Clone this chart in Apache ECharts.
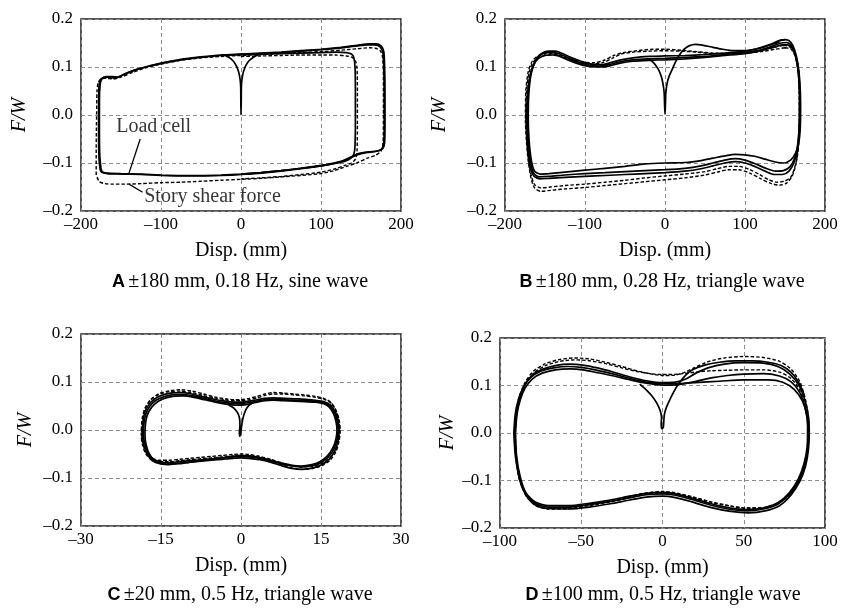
<!DOCTYPE html>
<html>
<head>
<meta charset="utf-8">
<script src="https://cdn.jsdelivr.net/npm/echarts@6/dist/echarts.min.js"></script>
<style>
  html, body { margin: 0; padding: 0; background: #fff; }
  #chart { width: 841px; height: 614px; }
</style>
</head>
<body>
<div id="chart"></div>
<script>
// ---- Panel A: ±180 mm, 0.18 Hz, sine wave ----
const aInitial = [[-24,0.126],[-16,0.121],[-10,0.113],[-6,0.103],[-3,0.09],[-1.2,0.075],[-0.4,0.06],[-0.2,0.03],[0,0.0],[0.3,0.03],[0.5,0.06],[1.3,0.075],[3,0.09],[6,0.103],[10,0.113],[16,0.121],[22,0.126]];
const aLoadCellOuter1 = [[-176,-0.115],[-177.5,-0.09],[-178,-0.04],[-178,0.02],[-177.5,0.06],[-176,0.073],[-172,0.078],[-165,0.079],[-158,0.077],[-152,0.08],[-142,0.088],[-128,0.096],[-112,0.103],[-100,0.108],[-75,0.116],[-50,0.121],[-25,0.125],[0,0.127],[25,0.129],[50,0.131],[75,0.134],[100,0.137],[125,0.141],[145,0.145],[160,0.148],[169,0.148],[175,0.144],[178.5,0.132],[179.5,0.1],[180,0.05],[180,-0.02],[179.5,-0.058],[177,-0.07],[171,-0.075],[160,-0.077],[148,-0.08],[138,-0.087],[126,-0.096],[110,-0.102],[100,-0.105],[75,-0.111],[50,-0.116],[25,-0.12],[0,-0.123],[-25,-0.125],[-50,-0.126],[-75,-0.126],[-100,-0.125],[-125,-0.123],[-150,-0.122],[-168,-0.121],[-174,-0.119],[-176,-0.115]];
const aLoadCellOuter2 = [[-175,-0.112],[-176.5,-0.085],[-177,-0.03],[-177,0.03],[-176,0.064],[-174,0.075],[-169,0.08],[-161,0.08],[-154,0.079],[-146,0.085],[-130,0.095],[-115,0.102],[-100,0.107],[-75,0.115],[-50,0.12],[-25,0.124],[0,0.126],[25,0.128],[50,0.13],[75,0.133],[100,0.136],[125,0.14],[145,0.144],[158,0.146],[167,0.146],[174,0.142],[177.5,0.128],[178.5,0.095],[179,0.04],[179,-0.03],[178,-0.062],[175,-0.072],[168,-0.076],[158,-0.078],[147,-0.082],[136,-0.09],[124,-0.098],[108,-0.104],[100,-0.106],[75,-0.112],[50,-0.117],[25,-0.121],[0,-0.124],[-25,-0.126],[-50,-0.127],[-75,-0.127],[-100,-0.126],[-125,-0.124],[-150,-0.123],[-167,-0.122],[-173,-0.119],[-175,-0.112]];
const aLoadCellInner = [[-25,0.125],[0,0.126],[25,0.127],[50,0.128],[75,0.129],[100,0.13],[120,0.131],[132,0.13],[138,0.127],[141,0.12],[142.5,0.1],[143,0.05],[143,-0.01],[142.5,-0.065],[141,-0.082],[137,-0.09],[130,-0.096],[120,-0.1],[100,-0.106],[75,-0.111],[50,-0.116],[25,-0.12],[0,-0.123]];
const aStoryOuter = [[-181,-0.125],[-181,-0.07],[-180.5,0.0],[-180,0.05],[-178.5,0.068],[-175,0.075],[-168,0.077],[-160,0.075],[-150,0.079],[-135,0.089],[-118,0.099],[-100,0.106],[-75,0.114],[-50,0.119],[-25,0.122],[0,0.124],[25,0.126],[50,0.128],[75,0.13],[100,0.132],[125,0.135],[145,0.138],[160,0.14],[168,0.139],[174,0.134],[177,0.12],[178,0.08],[178,0.0],[177.5,-0.06],[175,-0.075],[168,-0.084],[158,-0.09],[146,-0.099],[132,-0.107],[116,-0.116],[100,-0.122],[75,-0.126],[50,-0.129],[25,-0.132],[0,-0.134],[-25,-0.136],[-50,-0.138],[-75,-0.14],[-100,-0.141],[-125,-0.143],[-145,-0.144],[-160,-0.144],[-170,-0.143],[-177,-0.139],[-181,-0.125]];
const aStoryInner = [[0,0.122],[25,0.123],[50,0.124],[75,0.125],[100,0.125],[118,0.125],[132,0.123],[139,0.12],[143,0.113],[145,0.098],[145.5,0.05],[145.5,-0.02],[145,-0.075],[143,-0.092],[138,-0.1],[130,-0.105],[118,-0.112],[100,-0.119],[75,-0.124],[50,-0.128],[25,-0.131],[0,-0.133]];
// leader lines and label anchors (data coordinates)
const aLoadCellPointer = [[-126,-0.05],[-140,-0.121]];
const aStoryPointer = [[-140,-0.144],[-123,-0.161]];
const aLoadCellLabelAt = [-156, -0.024];
const aStoryLabelAt = [-121, -0.171];

// ---- Panel B: ±180 mm, 0.28 Hz, triangle wave ----
const bInitial = [[-22,0.118],[-15,0.11],[-9,0.097],[-5,0.082],[-2.5,0.065],[-1,0.045],[-0.5,0.02],[0,0.002],[0.5,0.02],[1,0.045],[2.5,0.065],[5,0.08],[9,0.095],[13,0.11],[18,0.125],[24,0.137],[30,0.144],[38,0.147],[48,0.145],[60,0.141],[72,0.137],[85,0.134],[100,0.134],[115,0.138],[130,0.146],[143,0.155],[150,0.157]];
const bLoadCell1 = [[143,0.155],[151,0.157],[157,0.152],[162,0.136],[166,0.108],[168.5,0.07],[169.5,0.02],[169,-0.03],[167,-0.06],[163,-0.08],[157,-0.094],[148,-0.1],[138,-0.098],[125,-0.092],[112,-0.086],[100,-0.083],[88,-0.082],[75,-0.085],[60,-0.09],[45,-0.095],[25,-0.099],[0,-0.1],[-25,-0.102],[-50,-0.107],[-75,-0.111],[-100,-0.115],[-125,-0.119],[-145,-0.122],[-156,-0.123],[-163,-0.117],[-167,-0.095],[-170,-0.05],[-171,0.0],[-170,0.05],[-167,0.088],[-162,0.112],[-155,0.127],[-146,0.133],[-137,0.133],[-128,0.128],[-118,0.12],[-105,0.112],[-92,0.106],[-80,0.105],[-68,0.109],[-55,0.115],[-40,0.119],[-20,0.122],[0,0.123],[25,0.124],[50,0.126],[75,0.129],[100,0.133],[120,0.14],[135,0.148],[143,0.152]];
const bLoadCell2 = [[145,0.15],[152,0.151],[158,0.145],[163,0.125],[166.5,0.095],[168,0.05],[168,-0.01],[166,-0.06],[162,-0.09],[156,-0.108],[148,-0.116],[138,-0.117],[126,-0.111],[112,-0.101],[100,-0.094],[88,-0.091],[75,-0.094],[60,-0.1],[45,-0.106],[25,-0.111],[0,-0.114],[-25,-0.116],[-50,-0.118],[-75,-0.12],[-100,-0.122],[-125,-0.125],[-145,-0.128],[-157,-0.129],[-164,-0.122],[-168,-0.1],[-171,-0.055],[-172,0.0],[-171,0.045],[-168,0.085],[-163,0.11],[-157,0.124],[-148,0.13],[-139,0.13],[-130,0.126],[-120,0.118],[-108,0.11],[-95,0.104],[-82,0.102],[-70,0.105],[-56,0.111],[-40,0.115],[-20,0.117],[0,0.118],[25,0.12],[50,0.122],[75,0.126],[100,0.13],[120,0.136],[135,0.144],[145,0.15]];
const bLoadCell3 = [[146,0.146],[153,0.146],[159,0.14],[164,0.12],[167,0.09],[168.5,0.04],[168,-0.02],[166,-0.07],[161,-0.1],[155,-0.117],[147,-0.124],[137,-0.124],[125,-0.117],[112,-0.107],[100,-0.1],[88,-0.097],[75,-0.1],[60,-0.106],[45,-0.112],[25,-0.117],[0,-0.12],[-25,-0.122],[-50,-0.124],[-75,-0.126],[-100,-0.128],[-125,-0.13],[-145,-0.132],[-156,-0.133],[-164,-0.127],[-169,-0.105],[-172,-0.06],[-173,0.0],[-172,0.04],[-169,0.08],[-164,0.105],[-158,0.118],[-150,0.124],[-140,0.125],[-130,0.121],[-119,0.113],[-107,0.106],[-95,0.101],[-82,0.1],[-70,0.102],[-56,0.108],[-40,0.112],[-20,0.114],[0,0.115],[25,0.117],[50,0.12],[75,0.124],[100,0.128],[120,0.134],[135,0.141],[146,0.146]];
const bStory1 = [[148,0.145],[155,0.143],[160,0.135],[164,0.115],[167,0.08],[168.5,0.03],[168,-0.03],[166,-0.08],[162,-0.11],[157,-0.13],[149,-0.138],[140,-0.14],[130,-0.135],[118,-0.124],[105,-0.113],[92,-0.107],[80,-0.107],[65,-0.112],[50,-0.118],[25,-0.123],[0,-0.127],[-25,-0.131],[-50,-0.136],[-75,-0.14],[-100,-0.144],[-125,-0.147],[-143,-0.15],[-155,-0.152],[-163,-0.145],[-168,-0.12],[-172,-0.07],[-174,0.0],[-173,0.05],[-170,0.088],[-165,0.11],[-158,0.12],[-148,0.125],[-138,0.126],[-127,0.121],[-115,0.113],[-103,0.108],[-90,0.106],[-78,0.109],[-66,0.118],[-55,0.127],[-40,0.131],[-20,0.133],[0,0.134],[20,0.133],[40,0.131],[60,0.128],[80,0.128],[100,0.13],[120,0.135],[136,0.141],[148,0.145]];
const bStory2 = [[150,0.14],[157,0.138],[162,0.125],[165.5,0.1],[167.5,0.06],[168,0.0],[167,-0.05],[164,-0.1],[159,-0.127],[152,-0.142],[143,-0.146],[133,-0.143],[120,-0.133],[106,-0.121],[92,-0.114],[80,-0.114],[65,-0.119],[50,-0.125],[25,-0.131],[0,-0.135],[-25,-0.139],[-50,-0.143],[-75,-0.147],[-100,-0.151],[-125,-0.154],[-143,-0.157],[-155,-0.159],[-163,-0.152],[-168,-0.128],[-172,-0.08],[-174.5,-0.01],[-174,0.05],[-171,0.09],[-166,0.112],[-159,0.123],[-150,0.127],[-140,0.128],[-128,0.123],[-115,0.115],[-102,0.11],[-88,0.109],[-76,0.114],[-64,0.124],[-52,0.13],[-35,0.134],[-15,0.137],[0,0.137],[20,0.135],[40,0.132],[60,0.129],[80,0.128],[100,0.129],[120,0.132],[138,0.137],[150,0.14]];

// ---- Panel C: ±20 mm, 0.5 Hz, triangle wave ----
const cInitial = [[-2.3,0.052],[-1.4,0.046],[-0.7,0.037],[-0.3,0.026],[-0.2,0.01],[-0.3,-0.005],[-0.2,-0.013],[0,-0.002],[0.2,0.015],[0.5,0.03],[0.9,0.042],[1.4,0.05],[2.2,0.057]];
const cLoadCell1 = [[-18.3,0.0],[-18.1,0.022],[-17.6,0.04],[-16.6,0.056],[-15,0.067],[-13,0.073],[-11,0.074],[-9,0.071],[-7,0.066],[-5,0.061],[-3,0.057],[-1,0.055],[0,0.055],[1.5,0.057],[3,0.06],[4.5,0.063],[6,0.064],[8,0.063],[10,0.062],[12,0.061],[14,0.06],[15.5,0.057],[16.7,0.05],[17.5,0.037],[18,0.02],[18.2,0.0],[18,-0.02],[17.4,-0.04],[16.4,-0.056],[15,-0.068],[13.5,-0.074],[11.5,-0.077],[9.5,-0.075],[7.5,-0.07],[5.5,-0.064],[3.5,-0.059],[1.5,-0.056],[0,-0.055],[-1.5,-0.056],[-3.5,-0.058],[-5.5,-0.06],[-7.5,-0.062],[-9.5,-0.064],[-11.5,-0.066],[-13.5,-0.068],[-15,-0.067],[-16.4,-0.061],[-17.4,-0.048],[-18,-0.03],[-18.3,-0.012],[-18.3,0.0]];
const cLoadCell2 = [[-18.5,0.0],[-18.3,0.025],[-17.8,0.043],[-16.8,0.059],[-15.2,0.071],[-13.2,0.077],[-11.2,0.078],[-9.2,0.075],[-7,0.069],[-5,0.064],[-3,0.06],[-1,0.058],[0,0.058],[1.5,0.06],[3,0.063],[4.5,0.066],[6,0.067],[8,0.066],[10,0.065],[12,0.064],[14,0.062],[15.5,0.059],[16.8,0.052],[17.7,0.038],[18.2,0.02],[18.4,0.0],[18.2,-0.022],[17.6,-0.043],[16.6,-0.06],[15.2,-0.072],[13.5,-0.079],[11.5,-0.082],[9.5,-0.08],[7.5,-0.074],[5.5,-0.067],[3.5,-0.062],[1.5,-0.059],[0,-0.058],[-1.5,-0.059],[-3.5,-0.061],[-5.5,-0.063],[-7.5,-0.065],[-9.5,-0.067],[-11.5,-0.069],[-13.5,-0.071],[-15.2,-0.07],[-16.6,-0.064],[-17.6,-0.05],[-18.2,-0.032],[-18.5,-0.013],[-18.5,0.0]];
const cLoadCell3 = [[-18.0,0.0],[-17.8,0.021],[-17.3,0.038],[-16.3,0.053],[-14.8,0.064],[-12.8,0.07],[-10.8,0.071],[-8.8,0.068],[-6.8,0.063],[-4.8,0.058],[-2.8,0.054],[-1,0.052],[0,0.052],[1.5,0.054],[3,0.058],[4.5,0.061],[6,0.062],[8,0.061],[10,0.06],[12,0.059],[14,0.058],[15.5,0.055],[16.5,0.048],[17.3,0.035],[17.8,0.018],[18,0.0],[17.8,-0.019],[17.2,-0.038],[16.2,-0.054],[14.8,-0.066],[13.3,-0.072],[11.3,-0.075],[9.3,-0.073],[7.3,-0.068],[5.3,-0.062],[3.3,-0.057],[1.5,-0.054],[0,-0.053],[-1.5,-0.055],[-3.5,-0.058],[-5.5,-0.061],[-7.5,-0.064],[-9.5,-0.067],[-11.5,-0.07],[-13.5,-0.072],[-15,-0.07],[-16.3,-0.063],[-17.2,-0.05],[-17.8,-0.03],[-18,-0.012],[-18,0.0]];
const cStory1 = [[-18.6,0.0],[-18.4,0.028],[-17.9,0.047],[-16.9,0.064],[-15.3,0.076],[-13.3,0.082],[-11.3,0.084],[-9.2,0.081],[-7,0.075],[-5,0.069],[-3,0.065],[-1,0.063],[0,0.063],[1.5,0.066],[3,0.07],[4.5,0.075],[6,0.078],[8,0.077],[10,0.075],[12,0.073],[14,0.07],[15.5,0.066],[16.8,0.058],[17.7,0.043],[18.3,0.022],[18.5,0.0],[18.3,-0.022],[17.7,-0.042],[16.7,-0.058],[15.3,-0.069],[13.5,-0.075],[11.5,-0.077],[9.5,-0.074],[7.5,-0.068],[5.5,-0.061],[3.5,-0.055],[1.5,-0.051],[0,-0.05],[-1.5,-0.051],[-3.5,-0.053],[-5.5,-0.055],[-7.5,-0.057],[-9.5,-0.059],[-11.5,-0.061],[-13.5,-0.063],[-15.3,-0.063],[-16.8,-0.058],[-17.8,-0.046],[-18.4,-0.028],[-18.6,-0.01],[-18.6,0.0]];
const cStory2 = [[-18.7,0.0],[-18.5,0.026],[-18,0.045],[-17,0.062],[-15.4,0.074],[-13.4,0.08],[-11.4,0.081],[-9.3,0.078],[-7.1,0.072],[-5,0.067],[-3,0.063],[-1,0.061],[0,0.061],[1.5,0.063],[3,0.067],[4.5,0.072],[6,0.075],[8,0.075],[10,0.073],[12,0.071],[14,0.068],[15.6,0.064],[16.9,0.056],[17.8,0.041],[18.4,0.021],[18.6,0.0],[18.4,-0.023],[17.8,-0.045],[16.8,-0.062],[15.4,-0.073],[13.6,-0.08],[11.6,-0.082],[9.6,-0.079],[7.6,-0.072],[5.6,-0.065],[3.6,-0.058],[1.5,-0.054],[0,-0.053],[-1.5,-0.054],[-3.5,-0.056],[-5.5,-0.058],[-7.5,-0.06],[-9.5,-0.062],[-11.5,-0.064],[-13.5,-0.066],[-15.4,-0.066],[-16.9,-0.061],[-17.9,-0.049],[-18.5,-0.03],[-18.7,-0.011],[-18.7,0.0]];

// ---- Panel D: ±100 mm, 0.5 Hz, triangle wave ----
const dInitial = [[-14,0.103],[-10,0.091],[-6.5,0.078],[-3.5,0.063],[-1.5,0.048],[-0.6,0.033],[-0.8,0.018],[-0.3,0.009],[0.5,0.012],[0.8,0.025],[1.2,0.04],[2.5,0.055],[4.5,0.07],[7,0.087],[10,0.104],[14,0.121],[19,0.134],[26,0.143],[35,0.149],[45,0.152],[55,0.152],[65,0.149],[73,0.142],[79,0.128],[83.5,0.108],[87,0.082]];
const dLoadCell1 = [[-91.5,0.0],[-90.6,0.04],[-88.7,0.07],[-85.6,0.096],[-81,0.117],[-75,0.13],[-67,0.137],[-58,0.14],[-50,0.138],[-40,0.132],[-30,0.124],[-20,0.115],[-10,0.107],[0,0.104],[10,0.104],[20,0.106],[35,0.109],[50,0.112],[65,0.112],[74,0.107],[81,0.092],[86,0.068],[89,0.035],[89.7,0.0],[89.2,-0.035],[87.3,-0.07],[83.8,-0.1],[78.5,-0.128],[71,-0.15],[62,-0.16],[52,-0.164],[42,-0.161],[30,-0.152],[18,-0.14],[8,-0.131],[0,-0.128],[-10,-0.13],[-20,-0.136],[-32,-0.144],[-45,-0.151],[-58,-0.156],[-70,-0.156],[-78,-0.149],[-84,-0.128],[-88,-0.095],[-90.5,-0.05],[-91.5,0.0]];
const dLoadCell2 = [[-91,0.0],[-90,0.042],[-88,0.073],[-85,0.1],[-80.5,0.121],[-74,0.134],[-66,0.142],[-57,0.145],[-49,0.143],[-40,0.137],[-30,0.128],[-20,0.118],[-10,0.11],[0,0.106],[8,0.107],[14,0.113],[20,0.125],[28,0.137],[38,0.145],[50,0.148],[62,0.147],[71,0.14],[78,0.125],[84,0.1],[88,0.065],[90,0.03],[90.3,0.0],[89.8,-0.035],[88,-0.07],[84.5,-0.102],[79,-0.131],[72,-0.153],[63,-0.164],[53,-0.168],[42,-0.165],[30,-0.157],[18,-0.145],[8,-0.136],[0,-0.133],[-10,-0.135],[-20,-0.141],[-32,-0.149],[-45,-0.156],[-58,-0.16],[-70,-0.159],[-78,-0.152],[-84,-0.131],[-88,-0.098],[-90,-0.05],[-91,0.0]];
const dLoadCell3 = [[-90.5,0.0],[-89.5,0.04],[-87.5,0.07],[-84.5,0.095],[-80,0.114],[-74,0.126],[-66,0.133],[-57,0.135],[-49,0.133],[-40,0.127],[-30,0.12],[-20,0.112],[-10,0.105],[0,0.101],[10,0.102],[20,0.108],[30,0.116],[40,0.121],[50,0.124],[62,0.125],[72,0.12],[79,0.108],[84.5,0.085],[88,0.05],[89.3,0.015],[89,-0.03],[87,-0.065],[83.5,-0.097],[78,-0.126],[71,-0.147],[62,-0.158],[52,-0.161],[42,-0.158],[30,-0.149],[18,-0.137],[8,-0.128],[0,-0.125],[-10,-0.127],[-20,-0.133],[-32,-0.141],[-45,-0.148],[-58,-0.153],[-70,-0.153],[-78,-0.146],[-84,-0.126],[-87.5,-0.093],[-89.8,-0.048],[-90.5,0.0]];
const dStory1 = [[-91,0.0],[-90,0.045],[-88,0.078],[-84.5,0.107],[-79.5,0.13],[-72,0.146],[-63,0.155],[-54,0.158],[-45,0.156],[-35,0.149],[-25,0.14],[-15,0.13],[-5,0.123],[0,0.121],[8,0.122],[14,0.128],[20,0.138],[28,0.15],[38,0.158],[50,0.161],[62,0.159],[72,0.151],[79,0.135],[84.5,0.108],[88,0.07],[89.8,0.03],[90,-0.01],[89,-0.045],[86.5,-0.08],[82.5,-0.11],[77,-0.134],[70,-0.15],[61,-0.158],[51,-0.158],[41,-0.153],[30,-0.145],[18,-0.134],[8,-0.126],[0,-0.123],[-10,-0.126],[-20,-0.133],[-32,-0.142],[-45,-0.15],[-58,-0.157],[-70,-0.158],[-78,-0.151],[-84,-0.13],[-88,-0.097],[-90.3,-0.05],[-91,0.0]];
const dStory2 = [[-90.5,0.0],[-89.5,0.045],[-87.5,0.077],[-84,0.105],[-79,0.127],[-72,0.142],[-63,0.151],[-54,0.154],[-45,0.152],[-35,0.146],[-25,0.137],[-15,0.129],[-5,0.124],[0,0.123],[10,0.124],[20,0.128],[30,0.131],[40,0.132],[50,0.133],[62,0.133],[72,0.128],[79,0.115],[84.5,0.09],[88,0.055],[89.5,0.015],[89.2,-0.03],[87.5,-0.067],[84,-0.1],[78.5,-0.128],[71,-0.147],[62,-0.157],[52,-0.158],[42,-0.154],[30,-0.146],[18,-0.135],[8,-0.128],[0,-0.126],[-10,-0.129],[-20,-0.136],[-32,-0.145],[-45,-0.153],[-58,-0.159],[-70,-0.16],[-78,-0.153],[-84,-0.132],[-88,-0.098],[-90,-0.05],[-90.5,0.0]];

// ---- axis ranges and captions ----
const xRanges = [[-200, 200, 100], [-200, 200, 100], [-30, 30, 15], [-100, 100, 50]];
const yRange = [-0.2, 0.2, 0.1];
const captions = [
  ['A', '\u00b1180 mm, 0.18 Hz, sine wave'],
  ['B', '\u00b1180 mm, 0.28 Hz, triangle wave'],
  ['C', '\u00b120 mm, 0.5 Hz, triangle wave'],
  ['D', '\u00b1100 mm, 0.5 Hz, triangle wave']
];
const xAxisTitle = 'Disp. (mm)';
const yAxisTitle = 'F/W';
const loadCellText = 'Load cell';
const storyText = 'Story shear force';

const panelSolid = [
  [aLoadCellOuter1, aLoadCellOuter2, aLoadCellInner, aInitial],
  [bInitial, bLoadCell1, bLoadCell2, bLoadCell3],
  [cLoadCell1, cLoadCell2, cLoadCell3, cInitial],
  [dInitial, dLoadCell1, dLoadCell2, dLoadCell3]
];
const panelDashed = [
  [aStoryOuter, aStoryInner],
  [bStory1, bStory2],
  [cStory1, cStory2],
  [dStory1, dStory2]
];

// ---- layout ----
const SERIF = '"Liberation Serif", "Times New Roman", serif';
const SANS = '"Liberation Sans", Arial, sans-serif';
const INK = '#000';
const grids = [
  { left: 81, top: 19, width: 320, height: 192 },
  { left: 505, top: 19, width: 320, height: 192 },
  { left: 81, top: 334, width: 320, height: 192 },
  { left: 500, top: 338, width: 325, height: 190 }
];
const yNameGaps = [51, 55, 45, 42];
const captionPos = [[240, 272], [662, 272], [240, 585], [663, 585]];

const minus = '\u2013';
const fmtX = v => (v < 0 ? minus + Math.abs(v) : String(v));
const fmtY = v => (v < -1e-9 ? minus : '') + Math.abs(v).toFixed(1);

const gridLine = { show: true, lineStyle: { color: '#8c8c8c', width: 1, type: [4, 3] } };

const option = {
  animation: false,
  backgroundColor: '#fff',
  grid: grids.map(g => Object.assign({ show: true, borderColor: '#1a1a1a', borderWidth: 1.5, backgroundColor: 'transparent' }, g)),
  xAxis: xRanges.map((r, i) => ({
    type: 'value', gridIndex: i, min: r[0], max: r[1], interval: r[2],
    name: xAxisTitle, nameLocation: 'middle', nameGap: 30,
    nameTextStyle: { fontFamily: SERIF, fontSize: 20, color: INK },
    axisLine: { show: false }, axisTick: { show: false },
    axisLabel: { margin: 5, fontFamily: SERIF, fontSize: 17, color: INK, formatter: fmtX, showMinLabel: true, showMaxLabel: true },
    splitLine: gridLine
  })),
  yAxis: xRanges.map((r, i) => ({
    type: 'value', gridIndex: i, min: yRange[0], max: yRange[1], interval: yRange[2],
    name: yAxisTitle, nameLocation: 'middle', nameGap: yNameGaps[i], nameRotate: 90,
    nameTextStyle: { fontFamily: SERIF, fontSize: 20, fontStyle: 'italic', color: INK },
    axisLine: { show: false }, axisTick: { show: false },
    axisLabel: { margin: 8, fontFamily: SERIF, fontSize: 17, color: INK, formatter: fmtY, showMinLabel: true, showMaxLabel: true },
    splitLine: gridLine
  })),
  graphic: captions.map((c, i) => ({
    type: 'text', x: captionPos[i][0], y: captionPos[i][1], silent: true,
    style: {
      text: '{k|' + c[0] + '} {t|' + c[1] + '}',
      align: 'center', verticalAlign: 'top',
      rich: {
        k: { fontFamily: SANS, fontSize: 18, fill: INK, fontWeight: 'bold' },
        t: { fontFamily: SERIF, fontSize: 20, fill: INK }
      }
    }
  })),
  series: []
};

const lineSeries = (data, i, dashed) => ({
  type: 'line', xAxisIndex: i, yAxisIndex: i, data: data,
  symbol: 'none', smooth: 0.25, silent: true, clip: true,
  lineStyle: { color: INK, width: dashed ? 1.4 : 1.7, type: dashed ? [3.5, 2] : 'solid' },
  z: dashed ? 3 : 4
});

panelSolid.forEach((loops, i) => loops.forEach(d => option.series.push(lineSeries(d, i, false))));
panelDashed.forEach((loops, i) => loops.forEach(d => option.series.push(lineSeries(d, i, true))));

// pointer lines and their labels in panel A
[aLoadCellPointer, aStoryPointer].forEach(p => option.series.push({
  type: 'line', xAxisIndex: 0, yAxisIndex: 0, data: p, symbol: 'none', silent: true,
  lineStyle: { color: INK, width: 1.3 }, z: 5
}));
[[aLoadCellLabelAt, loadCellText], [aStoryLabelAt, storyText]].forEach(([pt, txt]) => option.series.push({
  type: 'scatter', xAxisIndex: 0, yAxisIndex: 0, data: [pt], symbolSize: 0, silent: true, z: 6,
  label: { show: true, position: 'right', distance: 0, formatter: txt, fontFamily: SERIF, fontSize: 20, color: INK }
}));

const chart = echarts.init(document.getElementById('chart'), null, { renderer: 'canvas' });
chart.setOption(option);
</script>
</body>
</html>
